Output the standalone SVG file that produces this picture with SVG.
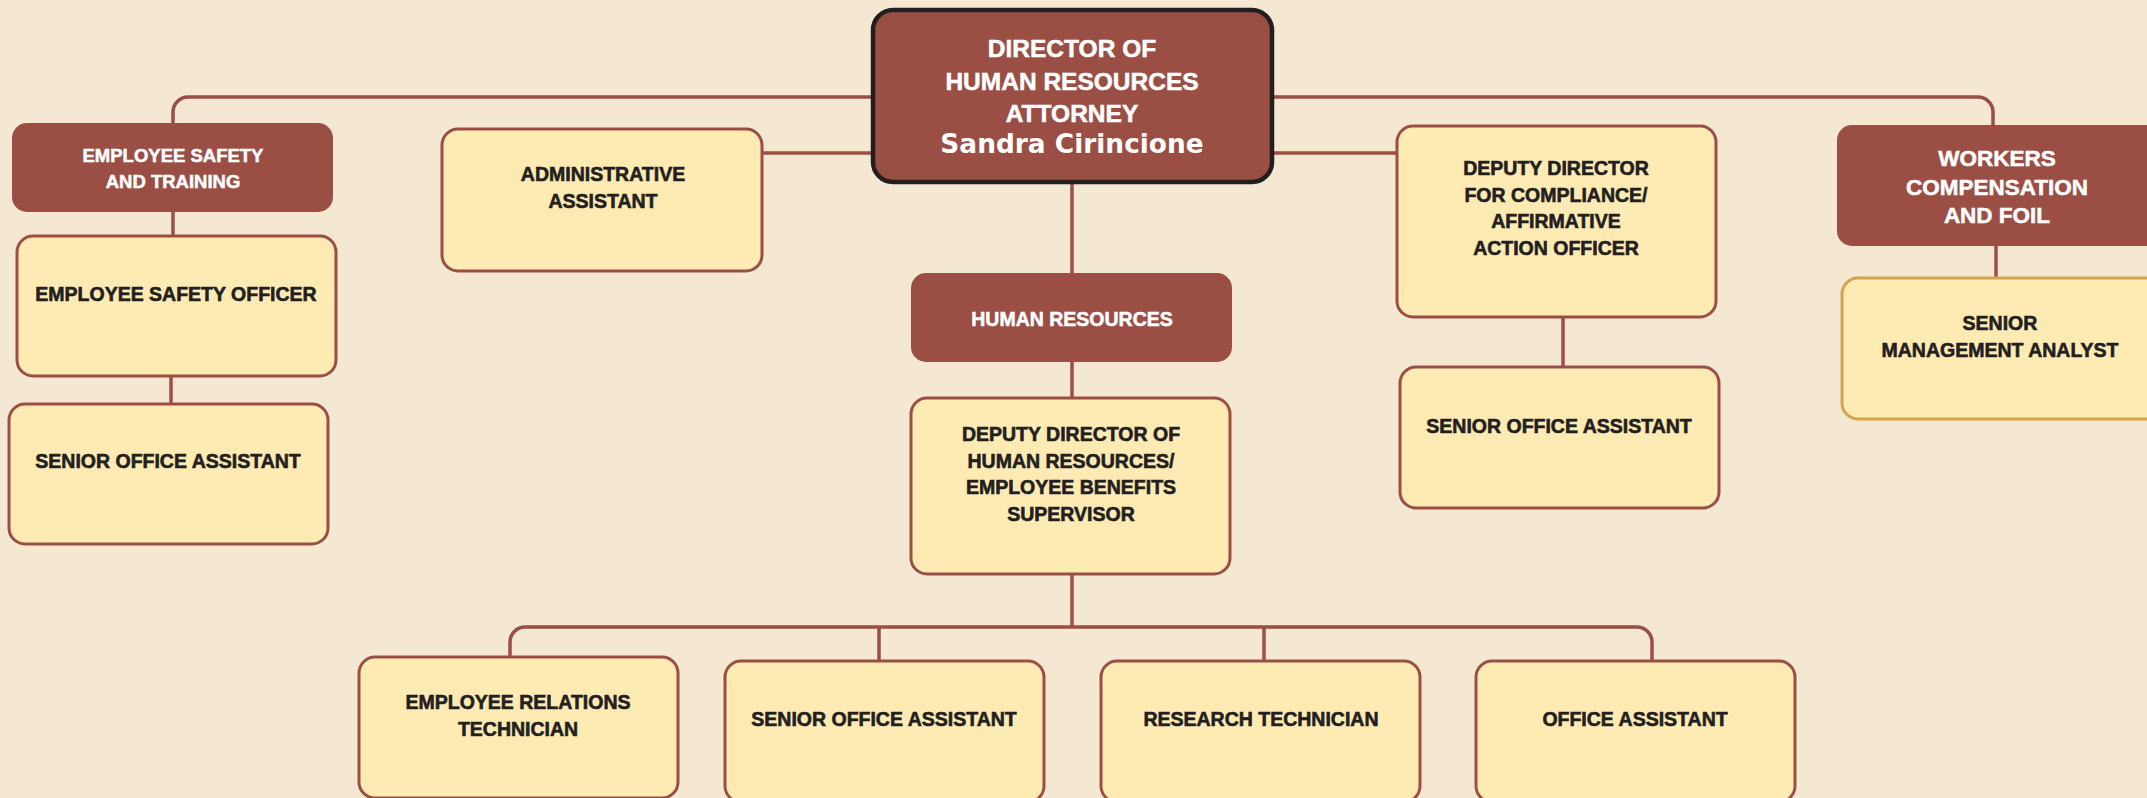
<svg xmlns="http://www.w3.org/2000/svg" width="2147" height="798" viewBox="0 0 2147 798">
<style>
.bg{fill:#f5e8d3}
.c{fill:none;stroke:#9b4f44;stroke-width:3.5}
.dk{fill:#9b4f44}
.lt{fill:#feebb4;stroke:#9b4f44;stroke-width:3}
.gd{fill:#feebb4;stroke:#d5a34e;stroke-width:3}
.top{fill:#9b4f44;stroke:#231f20;stroke-width:4.5}
.tw{fill:#ffffff;stroke:#ffffff;stroke-width:0.5;font-family:"Liberation Sans",Arial,sans-serif;font-weight:bold;text-anchor:middle}
.tb{fill:#231f20;stroke:#231f20;stroke-width:0.6;font-family:"Liberation Sans",Arial,sans-serif;font-weight:bold;text-anchor:middle;font-size:19.5px}
.nm{fill:#ffffff;font-family:"DejaVu Sans",Verdana,sans-serif;font-weight:bold;text-anchor:middle;font-size:26.4px}
</style>
<rect class="bg" x="0" y="0" width="2147" height="798"/>
<g id="connectors">
<path class="c" d="M1072 97 H188 A15 15 0 0 0 173 112 V123"/>
<path class="c" d="M1072 97 H1978 A15 15 0 0 1 1993 112 V125"/>
<path class="c" d="M762 153 H1397"/>
<path class="c" d="M1072 183 V273"/>
<path class="c" d="M1072 362 V398"/>
<path class="c" d="M1072 574 V627"/>
<path class="c" d="M510 657 V642 A15 15 0 0 1 525 627 H1637 A15 15 0 0 1 1652 642 V661"/>
<path class="c" d="M879 627 V661"/>
<path class="c" d="M1264 627 V661"/>
<path class="c" d="M173 212 V236"/>
<path class="c" d="M171 376 V404"/>
<path class="c" d="M1563 317 V367"/>
<path class="c" d="M1996 246 V278"/>
</g>
<g id="director">
<rect class="top" x="873" y="10" width="399" height="172" rx="20"/>
<text class="tw" x="1072" y="57" font-size="24.5">DIRECTOR OF</text>
<text class="tw" x="1072" y="90" font-size="24.5">HUMAN RESOURCES</text>
<text class="tw" x="1072" y="122" font-size="24.5">ATTORNEY</text>
<text class="nm" x="1072" y="153">Sandra Cirincione</text>
</g>
<g id="emp-safety-training">
<rect class="dk" x="12" y="123" width="321" height="89" rx="15"/>
<text class="tw" x="173" y="162" font-size="18.5">EMPLOYEE SAFETY</text>
<text class="tw" x="173" y="188" font-size="18.5">AND TRAINING</text>
</g>
<g id="emp-safety-officer">
<rect class="lt" x="17" y="236" width="319" height="140" rx="16"/>
<text class="tb" x="176" y="301">EMPLOYEE SAFETY OFFICER</text>
</g>
<g id="senior-office-assistant-left">
<rect class="lt" x="9" y="404" width="319" height="140" rx="16"/>
<text class="tb" x="168" y="468">SENIOR OFFICE ASSISTANT</text>
</g>
<g id="admin-assistant">
<rect class="lt" x="442" y="129" width="320" height="142" rx="16"/>
<text class="tb" x="603" y="181">ADMINISTRATIVE</text>
<text class="tb" x="603" y="208">ASSISTANT</text>
</g>
<g id="human-resources">
<rect class="dk" x="911" y="273" width="321" height="89" rx="15"/>
<text class="tw" x="1072" y="326" font-size="19.5">HUMAN RESOURCES</text>
</g>
<g id="deputy-hr">
<rect class="lt" x="911" y="398" width="319" height="176" rx="16"/>
<text class="tb" x="1071" y="441">DEPUTY DIRECTOR OF</text>
<text class="tb" x="1071" y="468">HUMAN RESOURCES/</text>
<text class="tb" x="1071" y="494">EMPLOYEE BENEFITS</text>
<text class="tb" x="1071" y="521">SUPERVISOR</text>
</g>
<g id="deputy-compliance">
<rect class="lt" x="1397" y="126" width="319" height="191" rx="16"/>
<text class="tb" x="1556" y="175">DEPUTY DIRECTOR</text>
<text class="tb" x="1556" y="202">FOR COMPLIANCE/</text>
<text class="tb" x="1556" y="228">AFFIRMATIVE</text>
<text class="tb" x="1556" y="255">ACTION OFFICER</text>
</g>
<g id="senior-office-assistant-right">
<rect class="lt" x="1400" y="367" width="319" height="141" rx="16"/>
<text class="tb" x="1559" y="433">SENIOR OFFICE ASSISTANT</text>
</g>
<g id="workers-comp">
<rect class="dk" x="1837" y="125" width="330" height="121" rx="15"/>
<text class="tw" x="1997" y="166" font-size="22.5">WORKERS</text>
<text class="tw" x="1997" y="195" font-size="22.5">COMPENSATION</text>
<text class="tw" x="1997" y="223" font-size="22.5">AND FOIL</text>
</g>
<g id="senior-mgmt-analyst">
<rect class="gd" x="1842" y="278" width="325" height="141" rx="16"/>
<text class="tb" x="2000" y="330">SENIOR</text>
<text class="tb" x="2000" y="357">MANAGEMENT ANALYST</text>
</g>
<g id="emp-relations-tech">
<rect class="lt" x="359" y="657" width="319" height="141" rx="16"/>
<text class="tb" x="518" y="709">EMPLOYEE RELATIONS</text>
<text class="tb" x="518" y="736">TECHNICIAN</text>
</g>
<g id="senior-office-assistant-bottom">
<rect class="lt" x="725" y="661" width="319" height="141" rx="16"/>
<text class="tb" x="884" y="726">SENIOR OFFICE ASSISTANT</text>
</g>
<g id="research-tech">
<rect class="lt" x="1101" y="661" width="319" height="141" rx="16"/>
<text class="tb" x="1261" y="726">RESEARCH TECHNICIAN</text>
</g>
<g id="office-assistant">
<rect class="lt" x="1476" y="661" width="319" height="141" rx="16"/>
<text class="tb" x="1635" y="726">OFFICE ASSISTANT</text>
</g>
</svg>
